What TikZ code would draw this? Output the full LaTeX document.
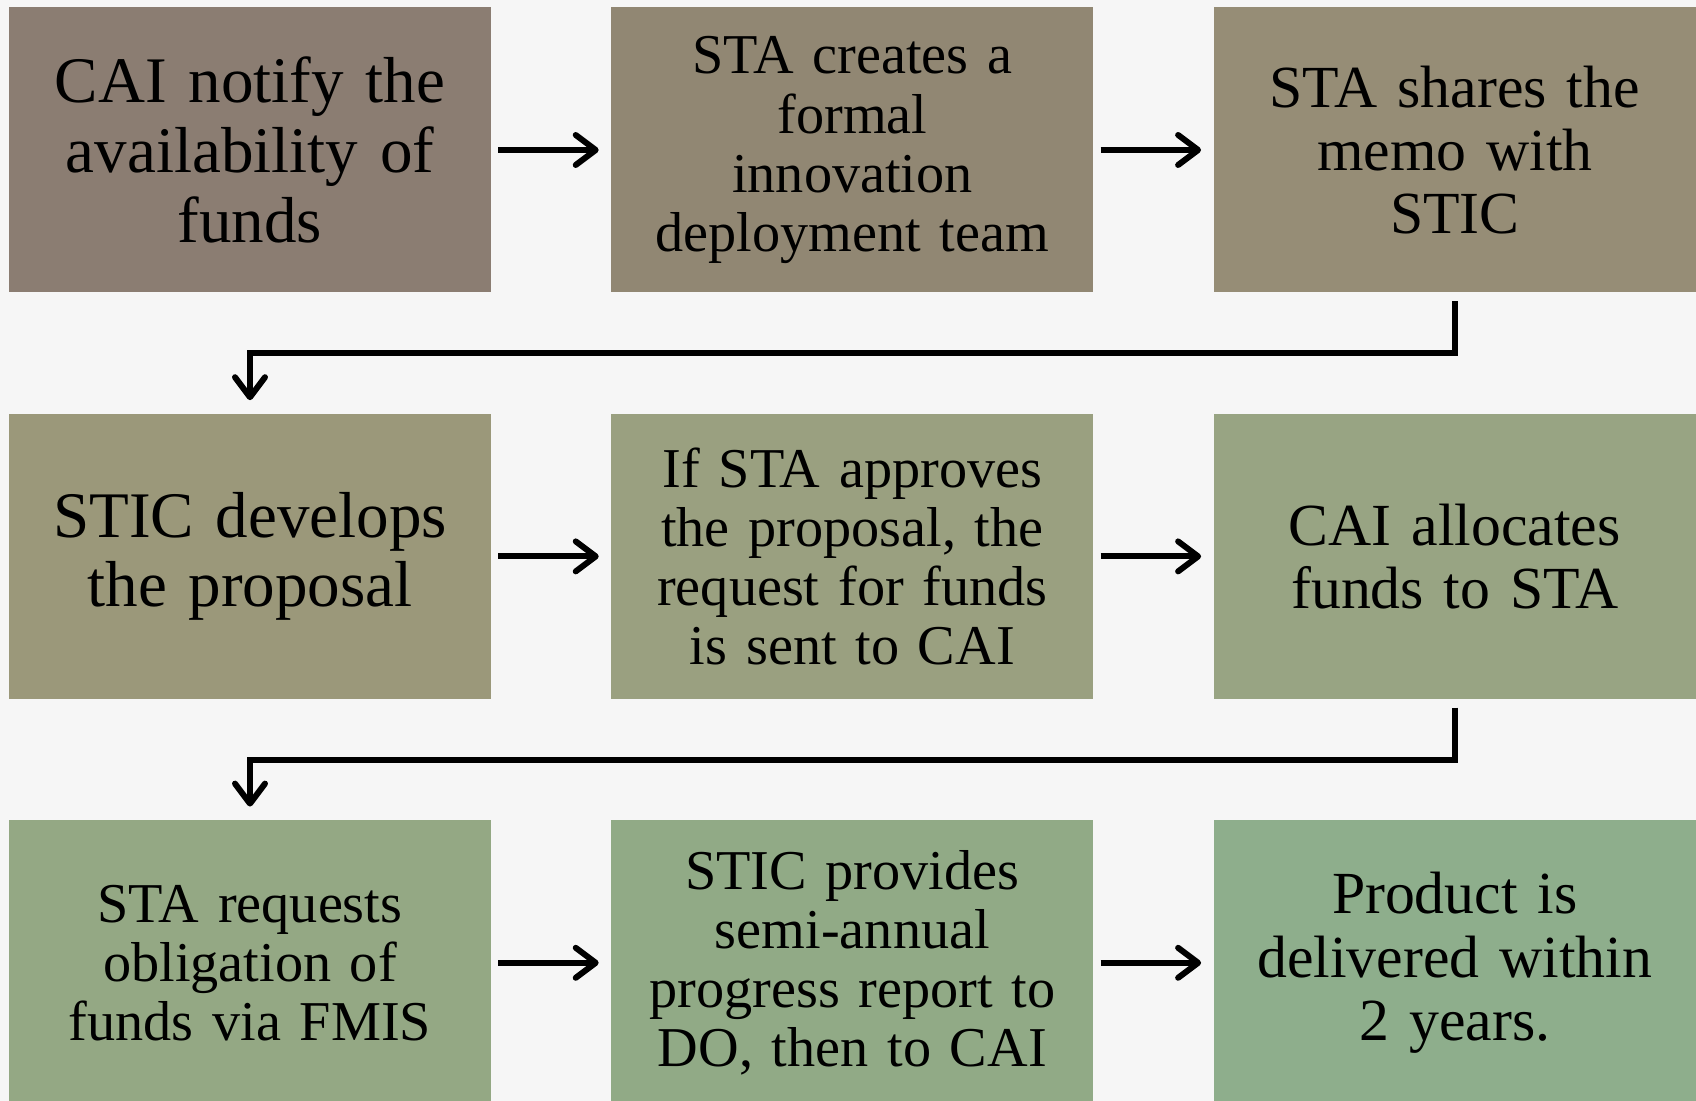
\documentclass[tikz,border=0pt]{standalone}
\usepackage{fontspec}
\setmainfont[WordSpace=0.7]{Liberation Serif}
\usepackage{xcolor}
\usepackage{tikz}
\usetikzlibrary{positioning,arrows.meta}

\definecolor{bgpaper}{HTML}{F6F6F6}
\definecolor{stepA}{HTML}{8B7D72}
\definecolor{stepB}{HTML}{918773}
\definecolor{stepC}{HTML}{968D76}
\definecolor{stepD}{HTML}{9B987A}
\definecolor{stepE}{HTML}{9AA080}
\definecolor{stepF}{HTML}{98A483}
\definecolor{stepG}{HTML}{94A884}
\definecolor{stepH}{HTML}{91AA86}
\definecolor{stepI}{HTML}{8EAE8C}

\begin{document}
\begin{tikzpicture}[node distance=1.2cm and 1.19cm,
  box/.style={fill=#1,minimum width=4.82cm,minimum height=2.85cm,
    text width=4.6cm,align=center,inner sep=0.1cm},
  bigtxt/.style={font=\fontsize{18.5}{19.8}\selectfont},
  midtxt/.style={font=\fontsize{17}{18}\selectfont},
  smalltxt/.style={font=\fontsize{16}{16.8}\selectfont},
  flow/.style={line width=1.7pt,-{Straight Barb[length=2mm,width=3mm,round]}},
  across/.style={flow,shorten <=0.065cm,shorten >=0.12cm}]
  \fill[bgpaper] (0,0) rectangle (16.96,-11.01);
  \useasboundingbox (0,0) rectangle (16.96,-11.01);

  % first row
  \node[box=stepA,bigtxt] (notify) at (2.50,-1.50) {CAI notify the\\ availability of\\ funds};
  \node[box=stepB,smalltxt,right=of notify] (team) {STA creates a\\ formal\\ innovation\\ deployment team};
  \node[box=stepC,midtxt,right=of team] (memo) {STA shares the\\ memo with\\ STIC};

  % second row
  \node[box=stepD,bigtxt,below=of notify] (proposal) {STIC develops\\ the proposal};
  \node[box=stepE,smalltxt,right=of proposal] (approve) {If STA approves\\ the proposal, the\\ request for funds\\ is sent to CAI};
  \node[box=stepF,midtxt,right=of approve] (allocate) {CAI allocates\\ funds to STA};

  % third row
  \node[box=stepG,smalltxt,below=of proposal] (obligate) {STA requests\\ obligation of\\ funds via FMIS};
  \node[box=stepH,smalltxt,right=of obligate] (report) {STIC provides\\ semi-annual\\ progress report to\\ DO, then to CAI};
  \node[box=stepI,midtxt,right=of report] (deliver) {Product is\\ delivered within\\ 2 years.};

  \draw[across] (notify) -- (team);
  \draw[across] (team) -- (memo);
  \draw[across] (proposal) -- (approve);
  \draw[across] (approve) -- (allocate);
  \draw[across] (obligate) -- (report);
  \draw[across] (report) -- (deliver);

  \draw[flow] ([yshift=-0.08cm]memo.south) -- ++(0,-0.52) -| ([yshift=0.13cm]proposal.north);
  \draw[flow] ([yshift=-0.08cm]allocate.south) -- ++(0,-0.52) -| ([yshift=0.13cm]obligate.north);
\end{tikzpicture}
\end{document}
